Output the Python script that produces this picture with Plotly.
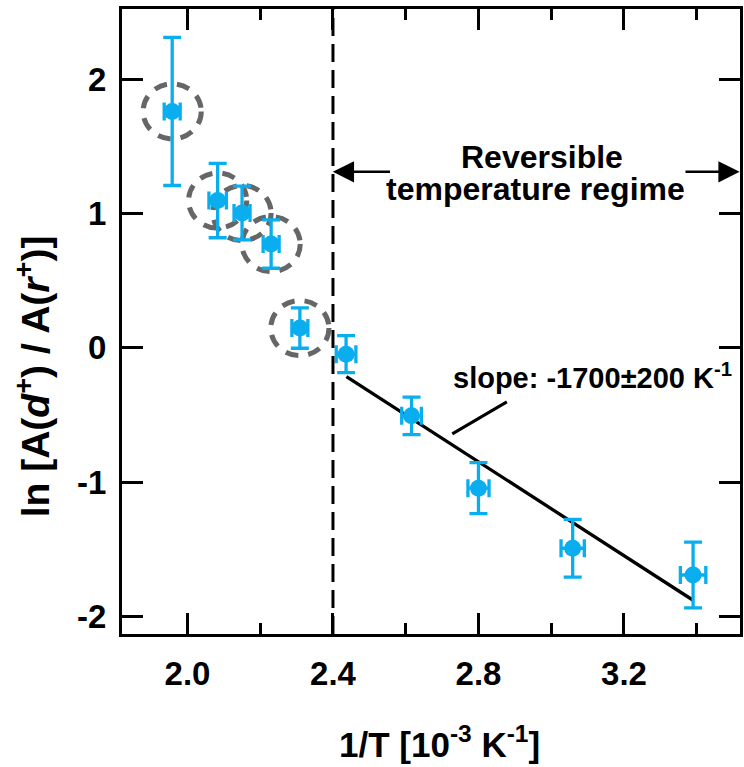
import plotly.graph_objects as go

# ---- data ----
inv_T = [1.958, 2.083, 2.150, 2.230, 2.309, 2.436, 2.616, 2.800, 3.059, 3.390]   # 1/T [1e-3 K^-1]
ln_ratio = [1.759, 1.096, 1.003, 0.772, 0.147, -0.047, -0.506, -1.044, -1.491, -1.690]
y_err = [0.551, 0.277, 0.200, 0.180, 0.150, 0.138, 0.140, 0.190, 0.215, 0.245]
x_err = [0.022, 0.024, 0.022, 0.022, 0.022, 0.027, 0.027, 0.029, 0.032, 0.035]
n_circled = 5  # first points marked with dashed circles

fit_x = [2.437, 3.389]
fit_y = [-0.214, -1.876]
pointer_x = [2.728, 2.878]
pointer_y = [-0.640, -0.402]
boundary_x = 2.4

x_major = [2.0, 2.4, 2.8, 3.2]
x_major_text = ["2.0", "2.4", "2.8", "3.2"]
x_minor = [2.2, 2.6, 3.0, 3.4]
y_major = [-2, -1, 0, 1, 2]
y_major_text = ["-2", "-1", "0", "1", "2"]

BLUE = "#0AAEEF"
FONT = "Liberation Sans"

fig = go.Figure()

# dashed circles around the first points
rx, ry = 0.080, 0.205
for i in range(n_circled):
    fig.add_shape(type="circle", xref="x", yref="y",
                  x0=inv_T[i] - rx, x1=inv_T[i] + rx,
                  y0=ln_ratio[i] - ry, y1=ln_ratio[i] + ry,
                  line=dict(color="#666666", width=5, dash="13px,10px"), layer="below")

# vertical dashed boundary
fig.add_shape(type="line", xref="x", yref="paper", x0=boundary_x, x1=boundary_x, y0=0, y1=1,
              line=dict(color="black", width=3, dash="18px,8px"))

# fit line
fig.add_trace(go.Scatter(x=fit_x, y=fit_y, mode="lines", line=dict(color="black", width=3.3),
                         showlegend=False, hoverinfo="skip"))
# pointer line
fig.add_trace(go.Scatter(x=pointer_x, y=pointer_y, mode="lines", line=dict(color="black", width=3),
                         showlegend=False, hoverinfo="skip"))

# data points
fig.add_trace(go.Scatter(
    x=inv_T, y=ln_ratio, mode="markers",
    marker=dict(color=BLUE, size=17, line=dict(width=0)),
    error_y=dict(type="data", array=y_err, visible=True, color=BLUE, thickness=3.3, width=9),
    error_x=dict(type="data", array=x_err, visible=True, color=BLUE, thickness=3.3, width=9),
    showlegend=False))

axis_common = dict(showline=True, linewidth=3, linecolor="black", mirror="ticks",
                   ticks="inside", ticklen=21, tickwidth=3, tickcolor="black",
                   showgrid=False, zeroline=False,
                   tickfont=dict(family=FONT, size=33, color="black", weight="bold"))

fig.update_xaxes(range=[1.82, 3.519], tickvals=x_major, ticktext=x_major_text,
                 minor=dict(tickvals=x_minor, ticks="inside", ticklen=11, tickwidth=3, tickcolor="black"),
                 ticklabelstandoff=8, **axis_common)
fig.update_yaxes(range=[-2.129, 2.521], tickvals=y_major, ticktext=y_major_text,
                 ticklabelstandoff=6, **axis_common)

ann = []
# axis titles
ann.append(dict(xref="paper", yref="paper", x=(441 - 122) / 621, y=-0.173, xanchor="center", yanchor="middle",
                text="<b>1/T [10<sup>-3</sup> K<sup>-1</sup>]</b>", showarrow=False,
                font=dict(family=FONT, size=35, color="black")))
ann.append(dict(xref="paper", yref="paper", x=(32 - 122) / 621, y=0.413, xanchor="center", yanchor="middle",
                textangle=-90,
                text="<b>ln [A(<i>d</i><sup>+</sup>) / A(<i>r</i><sup>+</sup>)]</b>", showarrow=False,
                font=dict(family=FONT, size=39, color="black")))
# regime label
ann.append(dict(xref="x", yref="y", x=2.975, y=1.422, text="<b>Reversible</b>", showarrow=False,
                font=dict(family=FONT, size=32, color="black")))
ann.append(dict(xref="x", yref="y", x=2.956, y=1.180, text="<b>temperature regime</b>", showarrow=False,
                font=dict(family=FONT, size=32, color="black")))
# arrows
ann.append(dict(xref="x", yref="y", x=2.3995, y=1.31, axref="x", ayref="y", ax=2.561, ay=1.31,
                text="", showarrow=True, arrowhead=2, arrowsize=1.7, arrowwidth=2.5, arrowcolor="black"))
ann.append(dict(xref="x", yref="y", x=3.518, y=1.31, axref="x", ayref="y", ax=3.365, ay=1.31,
                text="", showarrow=True, arrowhead=2, arrowsize=1.7, arrowwidth=2.5, arrowcolor="black"))
# slope label
ann.append(dict(xref="x", yref="y", x=3.113, y=-0.21, text="<b>slope: -1700±200 K<sup>-1</sup></b>",
                showarrow=False, font=dict(family=FONT, size=29, color="black")))

fig.update_layout(width=744, height=767, margin=dict(l=122, r=1, t=9, b=133),
                  plot_bgcolor="white", paper_bgcolor="white", annotations=ann)

fig.write_html("out.html")
